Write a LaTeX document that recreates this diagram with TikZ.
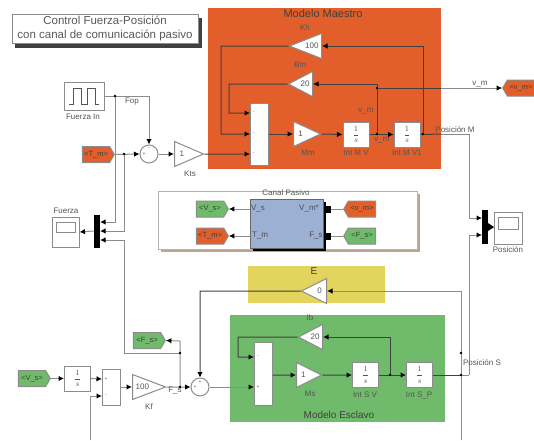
\documentclass[tikz,border=0pt]{standalone}
\usepackage{fontspec}
\setmainfont{Liberation Sans}
\usetikzlibrary{shapes.geometric,shapes.symbols,arrows.meta}

\definecolor{orangeM}{RGB}{226,94,43}
\definecolor{greenS}{RGB}{112,187,107}
\definecolor{yellowE}{RGB}{226,212,92}
\definecolor{blueC}{RGB}{156,176,212}
\definecolor{wireGray}{RGB}{140,140,140}
\definecolor{textGray}{RGB}{85,85,85}

\tikzset{
  lbl/.style={font=\fontsize{8}{9}\selectfont, text=textGray, inner sep=0pt},
  big/.style={lbl, text=black!75},
  block/.style={draw=wireGray, fill=white, line width=1pt, inner sep=0pt, font=\fontsize{8}{9}\selectfont, text=textGray},
  gainR/.style={block, isosceles triangle, isosceles triangle apex angle=60, isosceles triangle stretches, shape border rotate=0, minimum width=25pt, anchor=west},
  gainL/.style={gainR, shape border rotate=180, anchor=east},
  tagR/.style={block, signal, signal to=east, signal pointer angle=120, minimum height=16pt, minimum width=32pt, text=black!75, font=\fontsize{7.5}{8}\selectfont},
  tagL/.style={tagR, signal to=west},
  wire/.style={draw=wireGray, line width=1pt},
  dark/.style={draw=black!75, line width=1pt},
  tip/.style={-{Latex[black,length=5.5pt,width=5.5pt]}},
  mux/.style={fill=black, draw=none, inner sep=0pt}
}

\begin{document}
\begin{tikzpicture}[x=1pt,y=-1pt]
\useasboundingbox (0,0) rectangle (534,440);

% Coloured areas
\fill[orangeM] (208,8) rectangle (441,169);
\fill[yellowE] (248,266) rectangle (385,303);
\fill[greenS] (230,315) rectangle (445,422);
\node[big, font=\fontsize{11}{12}\selectfont] (tMaestro) at (323,14) {Modelo Maestro};
\node[big, font=\fontsize{10}{12}\selectfont] (tEsclavo) at (339,415) {Modelo Esclavo};
\node[big, font=\fontsize{10}{12}\selectfont] (tE) at (314,271) {E};

% Title box
\fill[black!75] (15,18) rectangle (202,48);
\node[draw=wireGray, fill=white, line width=1pt, minimum width=186pt, minimum height=29pt, inner sep=0pt, align=center, font=\fontsize{11.5}{14}\selectfont, text=black!65] (title) at (105,28.5) {Control Fuerza-Posición\\con canal de comunicación pasivo};

% Canal box
\fill[black!40!brown!50] (161,194) rectangle (420,252);
\node[draw=black!30, fill=white, minimum width=259pt, minimum height=58pt, inner sep=0pt] (canal) at (287.5,220) {};
\node[lbl] (tCanal) at (286,193) {Canal Pasivo};
\fill[black] (253,202) rectangle (326,251);
\node[draw=black!60, fill=blueC, minimum width=73pt, minimum height=49pt, inner sep=0pt] (pasivo) at (286.5,223.5) {};
\foreach \x/\y/\name in {258/209/V\_s, 260/236/T\_m, 309/209/V\_m*, 316/236/F\_s}
  \node[lbl, text=black!70] at (\x,\y) {\name};

% Gains
\foreach \name/\x/\y/\w/\val/\txt/\lx/\ly in {kts/174/154/29/1/Kts/190/174, mm/293/134/27/1/Mm/308/153, ms/296/375/25/1/Ms/310/394, kf/132/387/33/100/Kf/149/407}
{
  \node[gainR, minimum height=\w pt] (\name) at (\x,\y) {\val};
  \node[lbl] at (\lx,\ly) {\txt};
}
\foreach \name/\x/\y/\w/\val/\txt/\lx/\ly in {kh/322/46/32/100/Kh/305/28, bm/313/84/24/20/Bm/300/65, ib/323/337/24/20/Ib/310/318, ge/327/291/25/0/{}/0/0}
{
  \node[gainL, minimum height=\w pt] (\name) at (\x,\y) {\val};
  \node[lbl] at (\lx,\ly) {\txt};
}

% Integrators
\foreach \name/\x/\y/\txt/\lx/\ly in {intMV/356/134.5/Int M V/356/153, intMP/407/134.5/Int M V1/407/153, intSV/365.5/375/Int S V/365/395, intSP/419.5/375/Int S\_P/419/395, intF/77.5/378.5/{}/0/0}
{
  \node[block, minimum width=26pt, minimum height=25pt] (\name) at (\x,\y) {$\displaystyle\frac{1}{s}$};
  \node[lbl] at (\lx,\ly) {\txt};
}

% Sum blocks
\node[block, minimum width=18pt, minimum height=62pt] (sumM) at (259,134) {};
\node[block, minimum width=18pt, minimum height=63pt] (sumS) at (263,373.5) {};
\node[block, minimum width=18pt, minimum height=36pt] (sumF) at (111,387) {};
\node[block, circle, minimum size=18pt] (sumA) at (149,154) {};
\node[block, circle, minimum size=18pt] (sumB) at (200,387) {};
\foreach \x/\y/\s in {254/113/-, 254/134/-, 254/154/-, 258/357/-, 258/387/+, 106/379/+, 106/396/-, 149/149/-, 144/154/+, 200/382/+, 195/387/+}
  \node[lbl, font=\fontsize{5}{5}\selectfont] at (\x,\y) {\s};

% Pulse generator
\node[block, minimum width=40pt, minimum height=28pt] (pulse) at (84,96) {};
\draw[textGray, line width=.6pt] (69,104) -- (73,104) -- (73,88) -- (81,88) -- (81,104) -- (87,104) -- (87,88) -- (95,88) -- (95,104) -- (99,104);
\node[lbl] (tPulse) at (83,117) {Fuerza In};

% Tags
\node[tagR, fill=orangeM] (tagT) at (96,154.5) {<T\_m>};
\node[tagR, fill=greenS] (tagV) at (210,209) {<V\_s>};
\node[tagR, fill=orangeM] (tagTm) at (210,236) {<T\_m>};
\node[tagL, fill=orangeM] (tagVm) at (362,209) {<v\_m>};
\node[tagL, fill=greenS] (tagF) at (362,236) {<F\_s>};
\node[tagL, fill=orangeM] (tagOut) at (521,88) {<v\_m>};
\node[tagR, fill=greenS] (tagFs) at (147,340.5) {<F\_s>};
\node[tagR, fill=greenS] (tagVs) at (32,378.5) {<V\_s>};

% Mux bars and scopes
\node[mux, minimum width=6pt, minimum height=33pt] (muxF) at (97,231) {};
\node[mux, minimum width=6pt, minimum height=34pt] (muxP) at (485,227) {};
\node[block, minimum width=27pt, minimum height=30pt] (scopeF) at (65.5,232) {};
\node[draw=wireGray, line width=1pt, minimum width=19pt, minimum height=10pt, inner sep=0pt] (scrF) at (65.5,227) {};
\node[lbl] (tF) at (66,211) {Fuerza};
\node[block, minimum width=28pt, minimum height=32pt] (scopeP) at (508,228) {};
\node[draw=wireGray, line width=1pt, minimum width=20pt, minimum height=12pt, inner sep=0pt] (scrP) at (508,223) {};
\node[lbl] (tP) at (508,250) {Posición};

% Junctions
\coordinate (jPulse) at (115,96);
\coordinate (jT) at (124,154);
\coordinate (jV) at (377,134);
\coordinate (jVo) at (377,88);
\coordinate (jP) at (423,134);
\coordinate (jPo) at (469,134);
\coordinate (jSV) at (390,375);
\coordinate (jS) at (461,375);
\coordinate (jSu) at (461,353);
\coordinate (jSo) at (469,375);
\coordinate (jFa) at (180,387);
\coordinate (jFb) at (180,353);
\coordinate (endS) at (461,440);
\coordinate (endF) at (90,440);
\coordinate (cornerE) at (461,291);

% Master loop
\draw[dark,tip] (kts.east) -- (250,154);
\draw[dark,tip] (kh.apex) -- (221,46) -- (221,134) -- (250,134);
\draw[dark,tip] (bm.apex) -- (229,84) -- (229,113) -- (250,113);
\draw[dark,tip] (sumM.east) -- (mm.west);
\draw[dark,tip] (mm.apex) -- (intMV.west);
\draw[dark,tip] (intMV.east) -- (intMP.west);
\draw[dark,tip] (jP) -- (423,46) -- (kh.east);
\draw[dark,tip] (jV) -- (377,84) -- (bm.east);
\draw[dark] (intMP.east) -- (441,134);
\draw[wire] (441,134) -- (jPo);
\draw[wire,tip] (jPo) |- (482,218);
\draw[dark] (jVo) -- (441,88);
\draw[wire,tip] (441,88) -- (tagOut.west);

% Force input
\draw[wire] (pulse.east) -- (jPulse);
\draw[wire,tip] (jPulse) -- (149,96) -- (sumA.north);
\draw[wire,tip] (tagT.east) -- (sumA.west);
\draw[wire,tip] (sumA.east) -- (kts.west);
\draw[wire,tip] (jPulse) |- (100,222);
\draw[wire,tip] (jT) |- (100,231);
\draw[wire,tip] (jFb) -- (124,353) -- (124,240) -- (100,240);
\draw[wire,tip] (muxF.west) -- (scopeF.east);

% Passive channel
\draw[wire,tip] (pasivo.west |- tagV) -- (tagV.east);
\draw[wire,tip] (pasivo.west |- tagTm) -- (tagTm.east);
\draw[wire] (tagVm.west) -- (331,209);
\draw[wire] (tagF.west) -- (331,236);
\foreach \y in {209,236}
  \fill[black] (325,\y-3.5) rectangle (331,\y+3.5);

% Slave loop
\draw[wire,tip] (tagVs.east) -- (intF.west);
\draw[wire,tip] (intF.east) -- (102,379);
\draw[wire,tip] (endF) -- (90,396) -- (102,396);
\draw[wire,tip] (sumF.east) -- (kf.west);
\draw[wire,tip] (kf.apex) -- (sumB.west);
\draw[wire,tip] (jFa) -- (180,341) -- (tagFs.east);
\draw[wire,tip] (sumB.east) -- (254,387);
\draw[dark,tip] (ge.apex) -- (200,291) -- (sumB.north);
\draw[dark,tip] (ib.apex) -- (238,337) -- (238,357) -- (254,357);
\draw[dark,tip] (sumS.east |- ms) -- (ms.west);
\draw[dark,tip] (ms.apex) -- (intSV.west);
\draw[dark,tip] (intSV.east) -- (intSP.west);
\draw[dark,tip] (jSV) -- (390,337) -- (ib.east);
\draw[dark] (intSP.east) -- (jS);
\draw[wire] (jS) -- (jSo);
\draw[wire,tip] (jSo) |- (482,235);
\draw[wire,tip] (endS) -- (cornerE) -- (ge.east);
\draw[wire] (muxP.east) -- (scopeP.west);
\fill[black] (488,223) -- (494,227) -- (488,231) -- cycle;

% Dots
\foreach \p in {jPulse,jT,jV,jVo,jP,jSV,jS,jSu,jFa,jFb}
  \fill[black] (\p) circle (1.3pt);

% Signal labels
\foreach \x/\y/\txt in {132/102/Fop, 175/391/F\_s, 366/111/v\_m, 382/140/v\_m, 480/84/v\_m, 455/130/Posición M, 482/363/Posición S}
  \node[lbl] at (\x,\y) {\txt};

\end{tikzpicture}
\end{document}
